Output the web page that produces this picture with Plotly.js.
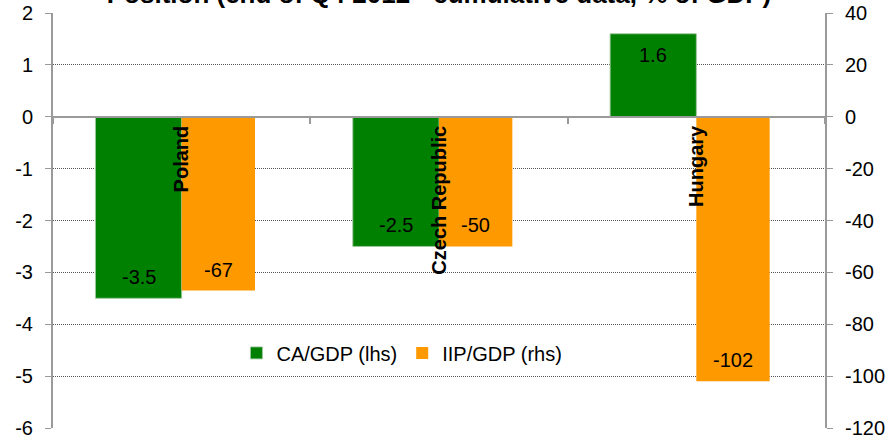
<!DOCTYPE html>
<html>
<head>
<meta charset="utf-8">
<script src="https://cdn.plot.ly/plotly-3.0.1.min.js"></script>
<style>
  html, body { margin: 0; padding: 0; background: #fff; }
  #chart { width: 896px; height: 439px; }
</style>
</head>
<body>
<div id="chart"></div>
<script>
// Countries on the category axis
const countries = ['Poland', 'Czech Republic', 'Hungary'];
// Current account balance, % of GDP (left axis)
const caGdp = [-3.5, -2.5, 1.6];
// International investment position, % of GDP (right axis)
const iipGdp = [-67, -50, -102];
// Value axis tick values (labels use a plain hyphen for negatives)
const caTicks = [-6, -5, -4, -3, -2, -1, 0, 1, 2];
const iipTicks = [-120, -100, -80, -60, -40, -20, 0, 20, 40];

const FONT = 'Liberation Sans, Arial, sans-serif';
const GREEN = '#008000';
const ORANGE = '#FF9900';
const AXIS_GREY = '#9a9a9a';

const caRange = [caTicks[0], caTicks[caTicks.length - 1]];
const iipRange = [iipTicks[0], iipTicks[iipTicks.length - 1]];

// bar geometry in category units: green sits left of the category centre, orange right
const caOffset = -0.335, caWidth = 0.335;
const iipOffset = 0, iipWidth = 0.285;

const traces = [
  {
    type: 'bar', name: 'CA/GDP (lhs)', x: countries, y: caGdp, yaxis: 'y',
    offset: caOffset, width: caWidth,
    marker: { color: GREEN, line: { color: 'rgba(160,200,160,0.9)', width: 1 } },
    hoverinfo: 'x+y'
  },
  {
    type: 'bar', name: 'IIP/GDP (rhs)', x: countries, y: iipGdp, yaxis: 'y2',
    offset: iipOffset, width: iipWidth,
    marker: { color: ORANGE },
    hoverinfo: 'x+y'
  }
];

// value labels placed inside the end of each bar
const labels = [];
function addLabels(vals, off, wid, yref) {
  vals.forEach((v, i) => {
    labels.push({
      x: i + off + wid / 2, y: v, xref: 'x', yref: yref,
      text: String(v), showarrow: false,
      yshift: v < 0 ? 21 : -21,
      font: { family: FONT, size: 20, color: '#000' }
    });
  });
}
addLabels(caGdp, caOffset, caWidth, 'y');
addLabels(iipGdp, iipOffset, iipWidth, 'y2');

const valueAxis = {
  showline: true, linecolor: AXIS_GREY, linewidth: 2,
  zeroline: false,
  ticks: 'outside', ticklen: 6, tickcolor: AXIS_GREY, tickwidth: 1,
  ticklabelstandoff: 8,
  tickmode: 'array',
  tickfont: { family: FONT, size: 20, color: '#000' }
};

const layout = {
  width: 896, height: 439,
  margin: { l: 53, r: 71, t: 13, b: 11 },
  paper_bgcolor: '#fff', plot_bgcolor: '#fff',
  font: { family: FONT, size: 20, color: '#000' },
  barmode: 'overlay',
  showlegend: true,
  title: {
    text: 'Position (end of Q4 2012 - cumulative data, % of GDP)',
    font: { family: FONT, size: 26, weight: 'bold', color: '#000' },
    xref: 'paper', x: 0.5, xanchor: 'center',
    yref: 'container', y: 1 - 2.5 / 439, yanchor: 'bottom'
  },
  xaxis: {
    type: 'category', categoryarray: countries, range: [-0.5, countries.length - 0.5],
    anchor: 'free', position: (0 - caRange[0]) / (caRange[1] - caRange[0]),
    showline: true, linecolor: AXIS_GREY, linewidth: 2,
    showgrid: false, zeroline: false,
    tickson: 'boundaries', ticks: 'outside', ticklen: 6, tickcolor: AXIS_GREY, tickwidth: 2,
    tickangle: -90,
    tickfont: { family: FONT, size: 20, weight: 'bold', color: '#000' }
  },
  yaxis: Object.assign({}, valueAxis, {
    range: caRange, tickvals: caTicks, ticktext: caTicks.map(String),
    showgrid: true, gridcolor: '#555', gridwidth: 1, griddash: '1px,1px'
  }),
  yaxis2: Object.assign({}, valueAxis, {
    overlaying: 'y', side: 'right',
    range: iipRange, tickvals: iipTicks, ticktext: iipTicks.map(String),
    showgrid: false
  }),
  legend: {
    orientation: 'h', x: 0.452, xanchor: 'center', y: 0.181, yanchor: 'middle',
    bgcolor: 'rgba(0,0,0,0)', font: { family: FONT, size: 20, color: '#000' },
    traceorder: 'normal'
  },
  annotations: labels
};

Plotly.newPlot('chart', traces, layout, { displayModeBar: false, staticPlot: true });
</script>
</body>
</html>
